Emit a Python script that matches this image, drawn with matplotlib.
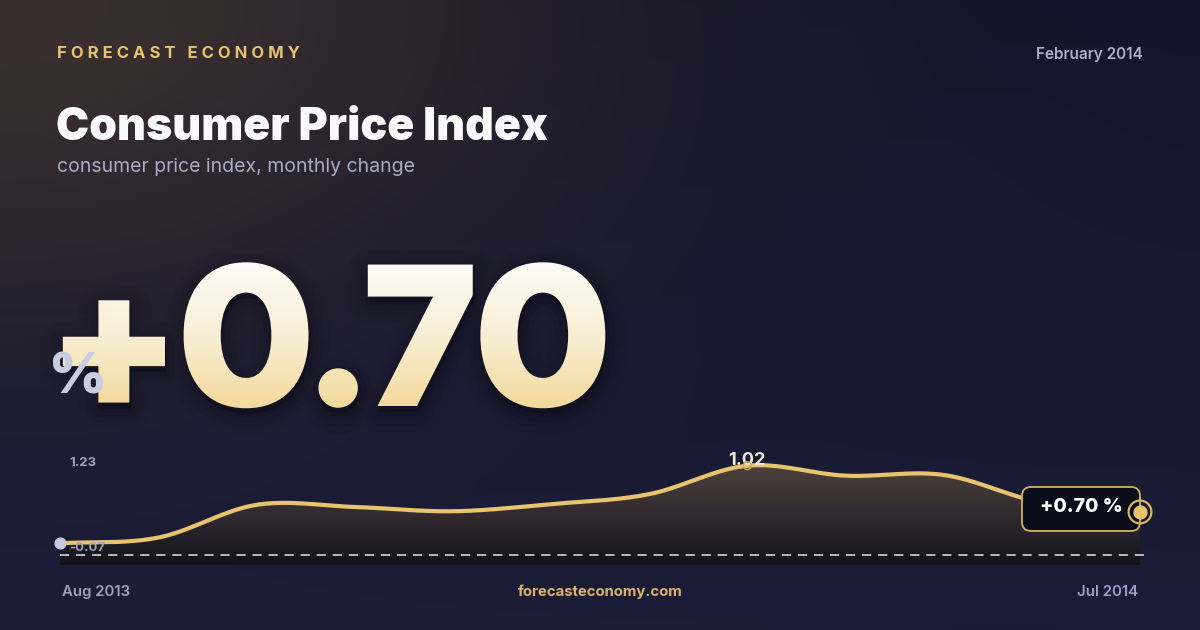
import numpy as np
import matplotlib
matplotlib.use('Agg')
import matplotlib.pyplot as plt
import matplotlib.patheffects as pe
from matplotlib.patches import FancyBboxPatch, PathPatch
from matplotlib.textpath import TextPath
from matplotlib.font_manager import FontProperties
from matplotlib.transforms import Affine2D, IdentityTransform

# data
months = ['Aug 2013', 'Sep 2013', 'Oct 2013', 'Nov 2013', 'Dec 2013', 'Jan 2014',
          'Feb 2014', 'Mar 2014', 'Apr 2014', 'May 2014', 'Jun 2014', 'Jul 2014']
cpi_change = [-0.07, 0.01, 0.47, 0.44, 0.38, 0.48, 0.62, 1.02, 0.88, 0.89, 0.50, 0.37]
axis_max = 1.23
headline = "+0.70"
latest_label = "+0.70 %"
report_month = "February 2014"

W, H = 1200, 630
DPI = 100
GOLD = '#e8c46e'
plt.rcParams['font.family'] = ['Inter', 'DejaVu Sans']


def catmull_rom(x, y, steps=30):
    x = np.asarray(x, float)
    y = np.asarray(y, float)
    yp = np.r_[2 * y[0] - y[1], y, 2 * y[-1] - y[-2]]
    xs, ys = [], []
    for i in range(len(y) - 1):
        p0, p1, p2, p3 = yp[i], yp[i + 1], yp[i + 2], yp[i + 3]
        t = np.linspace(0, 1, steps, endpoint=False)
        ys.append(0.5 * (2 * p1 + (-p0 + p2) * t + (2 * p0 - 5 * p1 + 4 * p2 - p3) * t ** 2
                         + (-p0 + 3 * p1 - 3 * p2 + p3) * t ** 3))
        xs.append(x[i] + (x[i + 1] - x[i]) * t)
    xs.append([x[-1]])
    ys.append([y[-1]])
    return np.concatenate(xs), np.concatenate(ys)


def hex_rgb(h):
    h = h.lstrip('#')
    return np.array([int(h[i:i + 2], 16) for i in (0, 2, 4)]) / 255.0


def vgrad(stops, n=200):
    g = np.linspace(0, 1, n)
    out = np.zeros((n, 1, 3))
    for k in range(3):
        out[:, 0, k] = np.interp(g, [s[0] for s in stops], [hex_rgb(s[1])[k] for s in stops])
    return out


fig = plt.figure(figsize=(W / DPI, H / DPI), dpi=DPI)

# background
bg = fig.add_axes([0, 0, 1, 1])
bg.set_xlim(0, W)
bg.set_ylim(H, 0)
bg.axis('off')
yy, xx = np.mgrid[0:H, 0:W]
t = (yy / H)[..., None]
base = hex_rgb('#14142a') * (1 - t) + hex_rgb('#1b1c37') * t
glow = 0.85 * np.exp(-((xx / 560.0) ** 2 + (yy / 320.0) ** 2))[..., None]
img = base * (1 - glow) + hex_rgb('#40352f') * glow
bg.imshow(img, extent=[0, W, H, 0], aspect='auto', zorder=0)

# chart
n = len(cpi_change)
px_per_unit = 71.2
y_lo = cpi_change[0] - 21.7 / px_per_unit
y_hi = y_lo + 125 / px_per_unit
ax = fig.add_axes([60 / W, (H - 565) / H, 1080 / W, 125 / H])
ax.patch.set_alpha(0)
ax.axis('off')

xs = np.arange(n)
sx, sy = catmull_rom(xs, cpi_change)
poly = np.vstack([np.c_[sx, sy], [[sx[-1], y_lo], [sx[0], y_lo]]])
area = plt.Polygon(poly, closed=True, fc='none', ec='none')
ax.add_patch(area)
im = ax.imshow(vgrad([(0.0, '#4c413a'), (0.45, '#342c30'), (0.85, '#1c1a23'), (1.0, '#13121c')]),
               extent=[0, n - 1, y_lo, max(cpi_change)], aspect='auto', zorder=1)
im.set_clip_path(area)
ax.set_xlim(0, n - 1)
ax.set_ylim(y_lo, y_hi)

dash_y = y_lo + 10 / px_per_unit
ax.axhline(dash_y, xmin=0, xmax=1.0065, color='#e4e4ec', lw=1.1, dashes=(6, 4.5),
           zorder=2, clip_on=False)
ax.plot(sx, sy, color=GOLD, lw=3, solid_capstyle='round', zorder=3)

ax.scatter([xs[0]], [cpi_change[0]], s=60, color='#c6c9de', zorder=5, clip_on=False)

i_max = int(np.argmax(cpi_change))
ax.annotate(f"{cpi_change[i_max]:.2f}", (xs[i_max], cpi_change[i_max]), xytext=(0, 5),
            textcoords='offset pixels', ha='center', va='center', fontsize=13,
            fontweight='bold', color='#efe9dc', zorder=4)
ax.scatter([xs[i_max]], [cpi_change[i_max]], s=32, facecolors='none', edgecolors='#d4ad58',
           linewidths=1, zorder=5)

# latest value box, anchored to the last point
fig.canvas.draw()
lx, ly = ax.transData.transform((xs[-1], cpi_change[-1]))
box = FancyBboxPatch((lx - 118, ly - 19), 118, 44, boxstyle='round,pad=0,rounding_size=9',
                     transform=IdentityTransform(), fc='#0b0c19', ec='#d6b05a', lw=1.3,
                     zorder=6, clip_on=False)
ax.add_patch(box)
ax.annotate(latest_label, (xs[-1], cpi_change[-1]), xytext=(-59, 5),
            textcoords='offset pixels', ha='center', va='center', fontsize=14,
            fontweight='heavy', color='white', zorder=7)
ax.scatter([xs[-1]], [cpi_change[-1]], s=270, facecolors='none', edgecolors='#d9b45e',
           linewidths=1.6, zorder=8, clip_on=False)
ax.scatter([xs[-1]], [cpi_change[-1]], s=85, color=GOLD, zorder=9, clip_on=False)

ax.annotate(f"{axis_max:.2f}", (xs[0], axis_max), xytext=(9, -12), textcoords='offset pixels',
            ha='left', va='center', fontsize=9.5, fontweight='bold', color='#9fa2bd',
            annotation_clip=False)
ax.annotate(f"{min(cpi_change):.2f}", (xs[0], min(cpi_change)), xytext=(9, -5),
            textcoords='offset pixels', ha='left', va='center', fontsize=9.5,
            fontweight='bold', color='#9fa2bd', annotation_clip=False, zorder=4)

# text layer
tx = fig.add_axes([0, 0, 1, 1])
tx.set_xlim(0, W)
tx.set_ylim(H, 0)
tx.axis('off')
tx.patch.set_alpha(0)

tx.text(57, 53, "F O R E C A S T   E C O N O M Y", fontsize=12, fontweight='bold',
        color=GOLD, va='center', ha='left')
tx.text(1143, 54, report_month, fontsize=11, fontweight='semibold', color='#adb0c8',
        va='center', ha='right')
tx.text(56, 140, "Consumer Price Index", fontsize=32, fontweight='black', color='#fafafc',
        va='baseline', ha='left')
tx.text(57, 167, "consumer price index, monthly change", fontsize=14, color='#a9abc4',
        va='center', ha='left')

# headline number: real text (dark, acting as its own soft shadow),
# with a vertical cream gradient laid on its outline
big_x, big_base, big_size = 48, 406, 140
big_prop = FontProperties(family='Inter Display', weight='black', size=big_size)
shadow = [pe.Stroke(offset=(1, -4), linewidth=lw, foreground='#05050b', alpha=a)
          for lw, a in [(30, 0.04), (20, 0.05), (12, 0.07), (5, 0.09)]]
tx.text(big_x, big_base, headline, fontproperties=big_prop, color='#07070e',
        va='baseline', ha='left', zorder=3, path_effects=shadow + [pe.Normal()])
tp = TextPath((0, 0), headline, size=big_size, prop=big_prop)
pt2px = DPI / 72.0
outline = PathPatch(tp, fc='none', ec='none',
                    transform=Affine2D().scale(pt2px, -pt2px).translate(big_x, big_base) + tx.transData)
tx.add_patch(outline)
gim = tx.imshow(vgrad([(0.0, '#fdfcf8'), (0.5, '#f9efd6'), (1.0, '#f3d99a')]),
                extent=[0, W, big_base + 3, big_base - 148], aspect='auto', zorder=3.5)
gim.set_clip_path(outline)
tx.set_xlim(0, W)
tx.set_ylim(H, 0)

tx.text(49, 393, "%", fontsize=40, fontweight='black', color='#c9cde2', va='baseline',
        ha='left', zorder=4)

tx.text(62, 592, months[0], fontsize=10.8, fontweight='semibold', color='#9da2c0',
        va='center', ha='left')
tx.text(1138, 592, months[-1], fontsize=10.8, fontweight='semibold', color='#9da2c0',
        va='center', ha='right')
tx.text(600, 592, "forecasteconomy.com", fontsize=10.7, fontweight='bold', color='#d8b464',
        va='center', ha='center')

fig.savefig('out.png', dpi=DPI)
